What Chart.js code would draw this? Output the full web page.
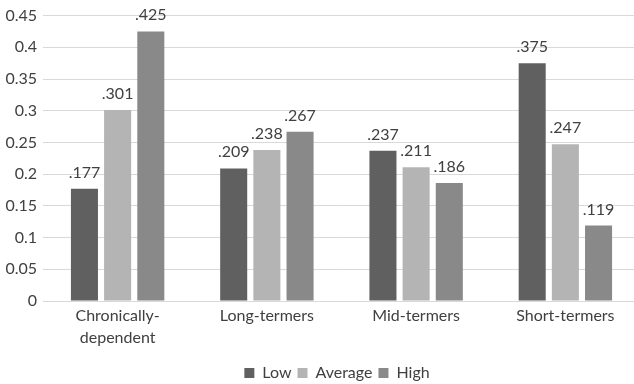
<!DOCTYPE html>
<html><head><meta charset="utf-8">
<script src="https://cdn.jsdelivr.net/npm/chart.js@4"></script>
<style>html,body{margin:0;padding:0;overflow:hidden;background:#fff;}canvas{display:block;}</style>
</head><body>
<canvas id="c" width="640" height="384"></canvas>
<script>
const categories = [["Chronically-","dependent"], "Long-termers", "Mid-termers", "Short-termers"];
const seriesNames = ["Low", "Average", "High"];
const lowValues = [0.177, 0.209, 0.237, 0.375];
const averageValues = [0.301, 0.238, 0.211, 0.247];
const highValues = [0.425, 0.267, 0.186, 0.119];
const yTicks = [0, 0.05, 0.1, 0.15, 0.2, 0.25, 0.3, 0.35, 0.4, 0.45];

const FONT = "Lato, 'Liberation Sans', sans-serif";
const colors = ["#606060", "#b4b4b4", "#898989"];

const labelPlugin = {
  id: 'valLabels',
  afterLayout(chart) {
    // centre the legend row under the plot like the original
    chart.legend.left = 34;
    chart.legend.right = 640;
  },
  afterDatasetsDraw(chart) {
    const ctx = chart.ctx;
    ctx.save();
    ctx.font = "16px " + FONT;
    ctx.fillStyle = "#404040";
    ctx.textAlign = "center";
    ctx.textBaseline = "alphabetic";
    chart.data.datasets.forEach((ds, i) => {
      chart.getDatasetMeta(i).data.forEach((bar, j) => {
        const v = ds.data[j];
        ctx.fillText(v.toFixed(3).replace(/^0/, ''), bar.x, bar.y - 11);
      });
    });
    ctx.restore();
  }
};

new Chart(document.getElementById('c'), {
  type: 'bar',
  data: {
    labels: categories,
    datasets: [
      { label: seriesNames[0], data: lowValues, backgroundColor: colors[0] },
      { label: seriesNames[1], data: averageValues, backgroundColor: colors[1] },
      { label: seriesNames[2], data: highValues, backgroundColor: colors[2] }
    ]
  },
  options: {
    responsive: false,
    animation: false,
    devicePixelRatio: 1,
    datasets: { bar: { categoryPercentage: 0.667, barPercentage: 0.815 } },
    layout: { padding: { top: 8, right: 0, left: 0, bottom: -7 } },
    scales: {
      x: {
        afterFit(scale) { scale.height = 58; },
        grid: { display: false, drawTicks: false },
        border: { color: '#d9d9d9', width: 1 },
        ticks: { color: '#404040', font: { family: FONT, size: 16, lineHeight: 1.375 }, padding: 4, maxRotation: 0, autoSkip: false }
      },
      y: {
        min: 0, max: 0.45,
        afterBuildTicks(scale) { scale.ticks = yTicks.map(v => ({ value: v })); },
        afterFit(scale) { scale.width = 43; },
        grid: { color: '#d9d9d9', drawTicks: false },
        border: { display: false },
        ticks: { color: '#404040', font: { family: FONT, size: 16 }, padding: 6,
          callback: v => String(Math.round(v * 100) / 100) }
      }
    },
    plugins: {
      legend: {
        position: 'bottom',
        labels: { color: '#404040', font: { family: FONT, size: 16 }, boxWidth: 10, boxHeight: 10, padding: 6 }
      },
      tooltip: { enabled: false }
    }
  },
  plugins: [labelPlugin]
});
</script>
</body></html>
